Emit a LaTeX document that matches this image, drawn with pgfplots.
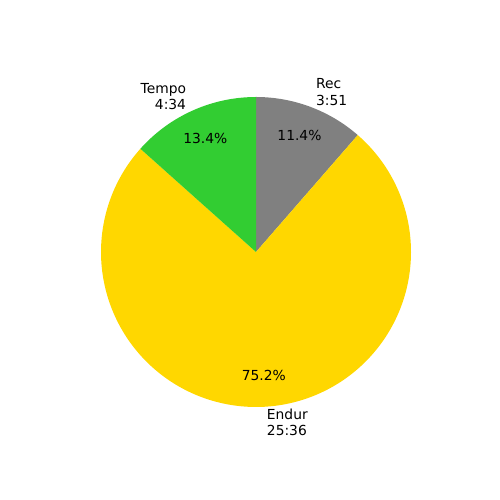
\documentclass[border=0pt]{standalone}
\usepackage{pgfplots}
\pgfplotsset{compat=1.18}
\usepackage{fontspec}
\setmainfont{DejaVu Sans}
\definecolor{recgray}{HTML}{808080}
\definecolor{endurgold}{HTML}{FFD700}
\definecolor{tempogreen}{HTML}{32CD32}
\begin{document}
\begin{tikzpicture}[every node/.style={font=\fontsize{10}{12}\selectfont, inner sep=0pt}]
% shares (percent) of Rec, Endur, Tempo
\pgfmathsetmacro\pRec{11.4}
\pgfmathsetmacro\pEnd{75.2}
\pgfmathsetmacro\pTem{13.4}
\pgfmathsetmacro\aA{90}
\pgfmathsetmacro\aB{\aA-3.6*\pRec}
\pgfmathsetmacro\aC{\aB-3.6*\pEnd}
\pgfmathsetmacro\aD{\aC-3.6*\pTem}
\pgfmathsetmacro\mRec{(\aA+\aB)/2}
\pgfmathsetmacro\mEnd{(\aB+\aC)/2}
\pgfmathsetmacro\mTem{(\aC+\aD)/2}
\begin{axis}[scale only axis, width=5in, height=5in,
  xmin=-1.6516, xmax=1.5742, ymin=-1.6, ymax=1.6258,
  hide axis, clip=false]
\path (rel axis cs:0,0) rectangle (rel axis cs:1,1);
\addplot[draw=none, fill=recgray, domain=\aB:\aA, samples=40]
  ({cos(x)},{sin(x)}) -- (axis cs:0,0) -- cycle;
\addplot[draw=none, fill=endurgold, domain=\aC:\aB, samples=200]
  ({cos(x)},{sin(x)}) -- (axis cs:0,0) -- cycle;
\addplot[draw=none, fill=tempogreen, domain=\aD:\aC, samples=40]
  ({cos(x)},{sin(x)}) -- (axis cs:0,0) -- cycle;
% labels
\node[anchor=west, align=left] at (axis cs:{1.1*cos(\mRec)},{1.1*sin(\mRec)}) {Rec\\3:51};
\node[anchor=west, align=left] at (axis cs:{1.1*cos(\mEnd)},{1.1*sin(\mEnd)}) {Endur\\25:36};
\node[anchor=east, align=right] at (axis cs:{1.1*cos(\mTem)},{1.1*sin(\mTem)}) {Tempo\\4:34};
% percentages
\node at (axis cs:{0.8*cos(\mRec)},{0.8*sin(\mRec)}) {11.4\%};
\node at (axis cs:{0.8*cos(\mEnd)},{0.8*sin(\mEnd)}) {75.2\%};
\node at (axis cs:{0.8*cos(\mTem)},{0.8*sin(\mTem)}) {13.4\%};
\end{axis}
\end{tikzpicture}
\end{document}
